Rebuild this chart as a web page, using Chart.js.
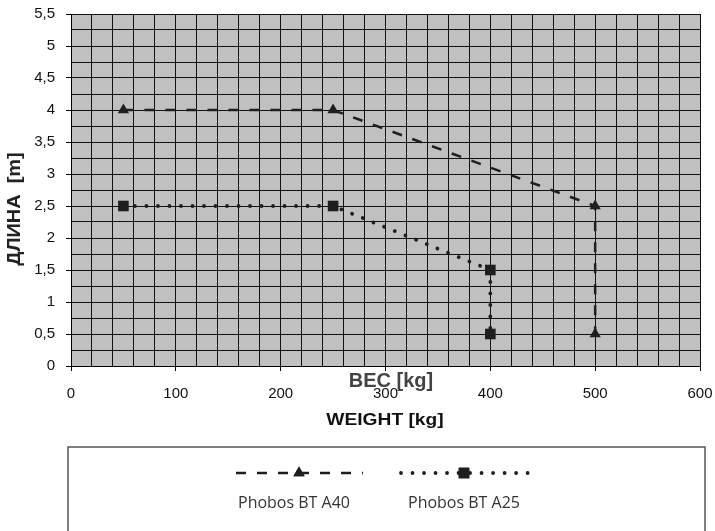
<!DOCTYPE html>
<html>
<head>
<meta charset="utf-8">
<script src="https://cdn.jsdelivr.net/npm/chart.js@4/dist/chart.umd.min.js"></script>
<style>
  html, body { margin: 0; padding: 0; background: #fff; }
</style>
</head>
<body>
<canvas id="lengthChart" width="715" height="531"></canvas>
<script>
// data
const seriesNames = ['Phobos BT A40', 'Phobos BT A25'];
const a40Weight = [50, 250, 500, 500];
const a40Length = [4, 4, 2.5, 0.5];
const a25Weight = [50, 250, 400, 400];
const a25Length = [2.5, 2.5, 1.5, 0.5];
const xTickLabels = ['0', '100', '200', '300', '400', '500', '600'];
const yTickLabels = ['0', '0,5', '1', '1,5', '2', '2,5', '3', '3,5', '4', '4,5', '5', '5,5'];

const toPoints = (xs, ys) => xs.map((x, i) => ({ x: x, y: ys[i] }));

const decor = {
  id: 'decor',
  beforeDraw(chart) {
    const { ctx, chartArea: a } = chart;
    ctx.save();
    ctx.fillStyle = '#c0c0c0';
    ctx.fillRect(a.left, a.top, a.right - a.left, a.bottom - a.top);
    ctx.restore();
  },
  afterDraw(chart) {
    const ctx = chart.ctx;
    ctx.save();
    ctx.textAlign = 'center';
    ctx.textBaseline = 'middle';

    // y title
    ctx.save();
    ctx.translate(15, 209);
    ctx.rotate(-Math.PI / 2);
    ctx.font = 'bold 19px "Liberation Sans", Arial, sans-serif';
    ctx.fillStyle = '#222';
    ctx.scale(1.05, 1);
    ctx.fillText('ДЛИНА  [m]', 0, 0);
    ctx.restore();

    // x titles
    ctx.font = 'bold 20px "Liberation Sans", Arial, sans-serif';
    ctx.fillStyle = '#444';
    ctx.fillText('BEC [kg]', 391, 381);
    ctx.save();
    ctx.translate(385, 421);
    ctx.font = 'bold 16px "Liberation Sans", Arial, sans-serif';
    ctx.fillStyle = '#111';
    ctx.scale(1.2, 1);
    ctx.fillText('WEIGHT [kg]', 0, 0);
    ctx.restore();

    // legend box
    ctx.strokeStyle = '#555';
    ctx.lineWidth = 1.5;
    ctx.strokeRect(68, 447, 637, 100);

    const centers = [299, 464];
    chart.data.datasets.forEach((ds, i) => {
      const cx = centers[i], cy = 473;
      ctx.save();
      ctx.strokeStyle = ds.borderColor;
      ctx.lineWidth = ds.borderWidth;
      ctx.lineCap = ds.borderCapStyle;
      ctx.setLineDash(ds.borderDash);
      ctx.beginPath();
      ctx.moveTo(cx - 63, cy);
      ctx.lineTo(cx + 64, cy);
      ctx.stroke();
      ctx.restore();
      ctx.fillStyle = ds.pointBackgroundColor;
      Chart.helpers.drawPoint(ctx, {
        pointStyle: ds.pointStyle, radius: ds.pointRadius, rotation: 0, borderWidth: 0
      }, cx, cy);
      ctx.fill();
      ctx.font = '16px "Open Sans", sans-serif';
      ctx.fillStyle = '#333';
      ctx.fillText(seriesNames[i], cx - 5 + i * 5, 503);
    });
    ctx.restore();
  }
};

new Chart(document.getElementById('lengthChart'), {
  type: 'scatter',
  data: {
    datasets: [{
      label: seriesNames[0],
      data: toPoints(a40Weight, a40Length),
      showLine: true,
      borderColor: '#1e1e1e',
      borderWidth: 2.5,
      borderDash: [10, 11],
      borderCapStyle: 'butt',
      pointStyle: 'triangle',
      pointRadius: 6.5,
      pointBackgroundColor: '#1e1e1e',
      pointBorderWidth: 0
    }, {
      label: seriesNames[1],
      data: toPoints(a25Weight, a25Length),
      showLine: true,
      borderColor: '#1e1e1e',
      borderWidth: 3.8,
      borderDash: [0.01, 11.5],
      borderCapStyle: 'round',
      pointStyle: 'rect',
      pointRadius: 7.5,
      pointBackgroundColor: '#1e1e1e',
      pointBorderWidth: 0
    }]
  },
  options: {
    responsive: false,
    animation: false,
    devicePixelRatio: 1,
    layout: { padding: { top: 14, right: 15, left: 0, bottom: 0 } },
    plugins: {
      legend: { display: false },
      tooltip: { enabled: false }
    },
    scales: {
      x: {
        type: 'linear',
        min: 0,
        max: 600,
        afterFit: (scale) => {
          scale.height = 165;
          scale.paddingLeft = 0;
          scale.paddingRight = 0;
        },
        grid: {
          color: '#111',
          lineWidth: 1,
          tickLength: 5,
          tickColor: (c) => (c.tick && c.tick.value % 100 === 0 ? '#000' : 'rgba(0,0,0,0)')
        },
        border: { color: '#000', width: 1 },
        ticks: {
          stepSize: 20,
          autoSkip: false,
          maxRotation: 0,
          padding: 14,
          color: '#111',
          font: { family: '"Liberation Sans", Arial, sans-serif', size: 15 },
          callback: (v) => (v % 100 === 0 ? xTickLabels[v / 100] : '')
        }
      },
      y: {
        min: 0,
        max: 5.5,
        afterFit: (scale) => {
          scale.width = 71;
          scale.paddingTop = 0;
          scale.paddingBottom = 0;
        },
        grid: {
          color: '#111',
          lineWidth: 1,
          tickLength: 5,
          tickColor: (c) => (c.tick && c.tick.value % 0.5 === 0 ? '#000' : 'rgba(0,0,0,0)')
        },
        border: { color: '#000', width: 1 },
        ticks: {
          stepSize: 0.25,
          autoSkip: false,
          padding: 11,
          color: '#111',
          font: { family: '"Liberation Sans", Arial, sans-serif', size: 15 },
          callback: (v) => (v % 0.5 === 0 ? yTickLabels[v / 0.5] : '')
        }
      }
    }
  },
  plugins: [decor]
});
</script>
</body>
</html>
